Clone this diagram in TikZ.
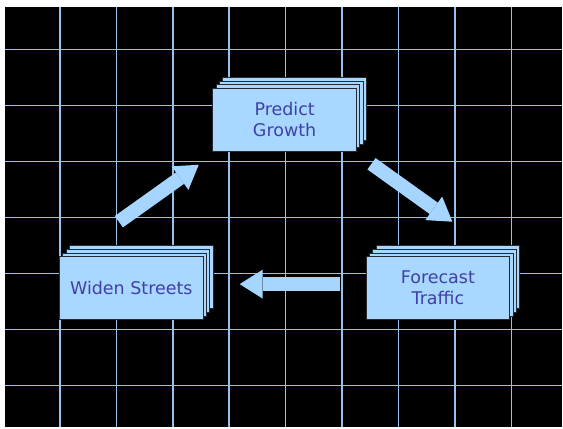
\documentclass[tikz,border=0pt]{standalone}
\usepackage{fontspec}
\setmainfont{DejaVu Sans}
\usetikzlibrary{arrows.meta,shadows}

\definecolor{boxfill}{RGB}{168,216,255}
\definecolor{boxtext}{RGB}{64,64,168}
\definecolor{boxline}{RGB}{40,40,48}
\definecolor{gridline}{RGB}{150,194,238}
\definecolor{arrowfill}{RGB}{166,214,255}

\begin{document}
\begin{tikzpicture}[
  x=1pt, y=-1pt,
  font=\fontsize{17.5}{21}\selectfont,
  stack/.style={draw=boxline, line width=0.8pt, fill=boxfill, text=boxtext, align=center,
    minimum width=144pt, minimum height=63pt, inner sep=0pt,
    copy shadow={shadow xshift=10pt, shadow yshift=11pt, fill=boxfill, draw=boxline},
    copy shadow={shadow xshift=6.6pt, shadow yshift=7.3pt, fill=boxfill, draw=boxline},
    copy shadow={shadow xshift=3.3pt, shadow yshift=3.6pt, fill=boxfill, draw=boxline}},
  bigarrow/.style={draw=arrowfill, line width=14pt,
    -{Triangle[length=23pt, width=29pt, line width=0pt]}}
]
% page and backdrop
\fill[white] (0,0) rectangle (563,428);
\fill[black] (5,7) rectangle (563,428);
\foreach \i in {0,...,8}
  \draw[gridline, line width=1.5pt] ({60+56.5*\i},7) -- ({60+56.5*\i},428);
\foreach \j in {0,...,6}
  \draw[gridline, line width=1.5pt] (5,{49.5+56.1*\j}) -- (563,{49.5+56.1*\j});

% the three steps
\node[stack] (predict) at (285,120) {Predict\\Growth};
\node[stack] (widen) at (131.5,288.5) {Widen Streets};
\node[stack] (forecast) at (438.5,288.5) {Forecast\\Traffic};

% arrow ends
\coordinate (widenout) at (119,222);
\coordinate (predictin) at (199,165);
\coordinate (predictout) at (372,164);
\coordinate (forecastin) at (453,222);
\coordinate (forecastout) at (340,284.5);
\coordinate (widenin) at (240,284.5);

\draw[bigarrow] (widenout) -- (predictin);
\draw[bigarrow] (predictout) -- (forecastin);
\draw[bigarrow] (forecastout) -- (widenin);
\end{tikzpicture}
\end{document}
